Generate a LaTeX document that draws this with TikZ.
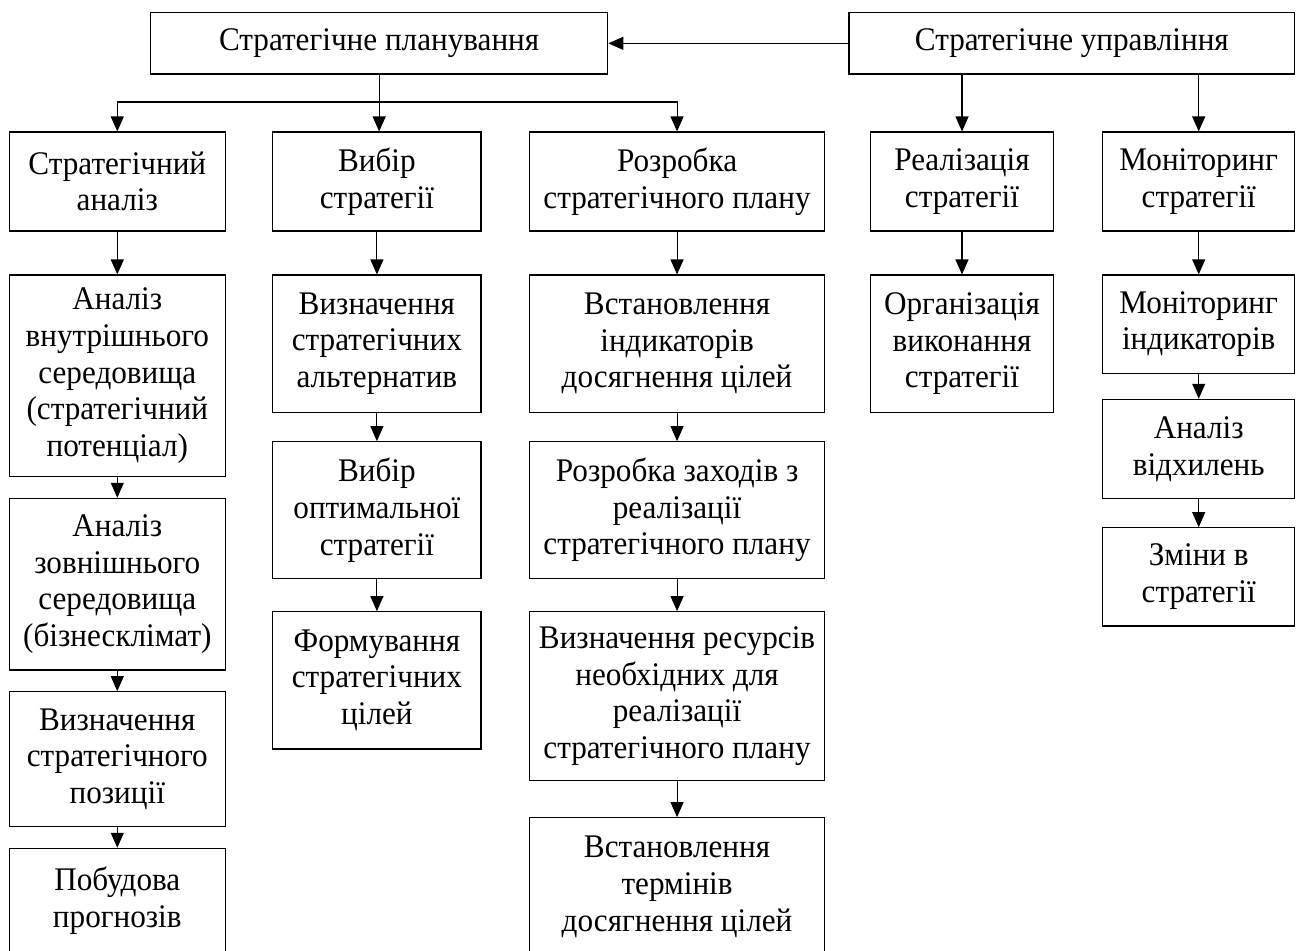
\documentclass[tikz,border=0pt]{standalone}
\usepackage{fontspec}
\setmainfont[FakeStretch=0.945]{Liberation Serif}
\usetikzlibrary{arrows.meta}
\tikzset{
  box/.style={draw, line width=1.1pt, align=center, inner sep=1pt,
    font=\fontsize{33}{36.7}\selectfont},
  arr/.style={line width=1.1pt, -{Triangle[length=15pt,width=13pt]}}
}
\newcommand\placebox[6]{%
  \pgfmathsetmacro\bxw{#3-#2}\pgfmathsetmacro\bxh{#5-#4}%
  \pgfmathsetmacro\bxcx{(#2+#3)/2}\pgfmathsetmacro\bxcy{(#4+#5)/2+1.5}%
  \node[box,minimum width=\bxw pt,minimum height=\bxh pt] (#1) at (\bxcx,\bxcy) {#6};}
\begin{document}
\begin{tikzpicture}[x=1pt,y=-1pt]
\useasboundingbox (0,0) rectangle (1300,950);
% top
\placebox{SP}{150.5}{607.8}{11.2}{72.5}{Стратегічне планування}
\placebox{SU}{849}{1294.7}{11.2}{72.5}{Стратегічне управління}
% row 1
\placebox{a1}{9.1}{225.5}{130.5}{229.5}{Стратегічний\\аналіз}
\placebox{b1}{272.8}{481}{130.5}{229.5}{Вибір\\стратегії}
\placebox{c1}{529.4}{824.7}{130.5}{229.5}{Розробка\\стратегічного плану}
\placebox{d1}{870.6}{1053.4}{130.5}{229.5}{Реалізація\\стратегії}
\placebox{e1}{1102.7}{1294.7}{130.5}{229.5}{Моніторинг\\стратегії}
% column 1
\placebox{a2}{9.1}{225.5}{273.5}{475.2}{Аналіз\\внутрішнього\\середовища\\(стратегічний\\потенціал)}
\placebox{a3}{9.1}{225.5}{496.8}{668.5}{Аналіз\\зовнішнього\\середовища\\(бізнесклімат)}
\placebox{a4}{9.1}{225.5}{690.2}{825.2}{Визначення\\стратегічного\\позиції}
\placebox{a5}{9.1}{225.5}{846.8}{951.5}{Побудова\\прогнозів}
% column 2
\placebox{b2}{272.8}{481}{273.5}{410.8}{Визначення\\стратегічних\\альтернатив}
\placebox{b3}{272.8}{481}{440.2}{576.8}{Вибір\\оптимальної\\стратегії}
\placebox{b4}{272.8}{481}{610.2}{747.5}{Формування\\стратегічних\\цілей}
% column 3
\placebox{c2}{529.4}{824.7}{273.5}{410.8}{Встановлення\\індикаторів\\досягнення цілей}
\placebox{c3}{529.4}{824.7}{440.2}{576.8}{Розробка заходів з\\реалізації\\стратегічного плану}
\placebox{c4}{529.4}{824.7}{610.2}{779.2}{Визначення ресурсів\\необхідних для\\реалізації\\стратегічного плану}
\placebox{c5}{529.4}{824.7}{816.2}{954.5}{Встановлення\\термінів\\досягнення цілей}
% column 4
\placebox{d2}{870.6}{1053.4}{273.5}{410.8}{Організація\\виконання\\стратегії}
% column 5
\placebox{e2}{1102.7}{1294.7}{273.5}{371.8}{Моніторинг\\індикаторів}
\placebox{e3}{1102.7}{1294.7}{397.8}{497.2}{Аналіз\\відхилень}
\placebox{e4}{1102.7}{1294.7}{526.2}{624.5}{Зміни в\\стратегії}
% connectors
\draw[arr] (SU.west) -- (SP.east);
\coordinate (junc) at (379.2,102);
\draw[arr] (SP.south) -- (SP.south |- b1.north);
\draw[arr] (junc) -| (a1.north);
\draw[arr] (junc) -| (c1.north);
\draw[arr] (d1.north |- SU.south) -- (d1.north);
\draw[arr] (e1.north |- SU.south) -- (e1.north);
\foreach \u/\v in {a1/a2,a2/a3,a3/a4,a4/a5,b1/b2,b2/b3,b3/b4,c1/c2,c2/c3,c3/c4,c4/c5,d1/d2,e1/e2,e2/e3,e3/e4}
  \draw[arr] (\u.south) -- (\v.north);
\end{tikzpicture}
\end{document}
